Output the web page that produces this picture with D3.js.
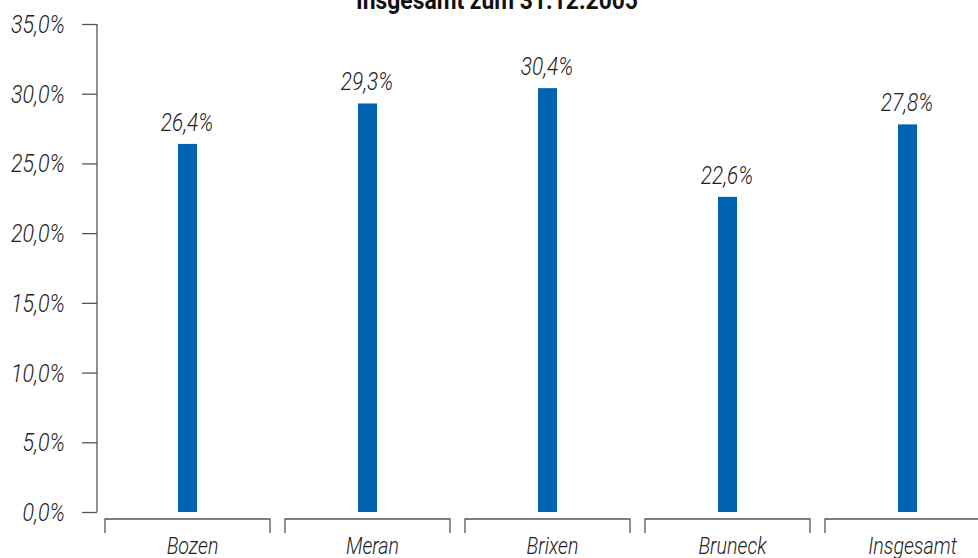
<!DOCTYPE html>
<html><head><meta charset="utf-8">
<script src="https://cdn.jsdelivr.net/npm/d3@7"></script>
<style>
body{margin:0;background:#fff;}
text{font-family:"Roboto",sans-serif;}
</style></head>
<body><svg id="c" width="978" height="558"></svg>
<script>
const title = "Insgesamt zum 31.12.2005";
const categories = ["Bozen","Meran","Brixen","Bruneck","Insgesamt"];
const values = [26.4, 29.3, 30.4, 22.6, 27.8];
const valueLabels = ["26,4%","29,3%","30,4%","22,6%","27,8%"];
const yTicks = [0,5,10,15,20,25,30,35];
const yTickLabels = ["0,0%","5,0%","10,0%","15,0%","20,0%","25,0%","30,0%","35,0%"];

const svg = d3.select("#c");
const y = d3.scaleLinear().domain([0,35]).range([512,24]);
const x = d3.scaleBand().domain(categories).range([97.5,997.5]).padding(0);
const barW = 19;
const dark = "#333";
const tf = (px,py,s)=>`translate(${px},${py}) scale(${s},1)`;

svg.append("text").attr("transform",tf(497,8.5,0.88)).attr("text-anchor","middle")
  .attr("font-size",26).attr("font-weight","bold").attr("fill","#111").text(title);

// y axis
const yAxis = d3.axisLeft(y).tickValues(yTicks).tickSize(15).tickPadding(17)
  .tickFormat((d,i)=>yTickLabels[i]);
const ga = svg.append("g").attr("transform","translate(97,0)").call(yAxis);
ga.select(".domain").attr("stroke","#555").attr("stroke-width",1.3).attr("d","M0,24V512");
ga.selectAll(".tick line").attr("stroke","#555").attr("stroke-width",1.3);
ga.selectAll(".tick text").attr("x",null).attr("dy",null)
  .attr("transform",tf(-32,8.5,0.86))
  .attr("font-size",25).attr("font-style","italic").attr("font-weight",300)
  .attr("fill","#222").attr("font-family","Roboto, sans-serif");

// bars
svg.selectAll("rect.bar").data(values).join("rect").attr("class","bar")
  .attr("x",(d,i)=>x(categories[i])+x.bandwidth()/2-barW/2)
  .attr("width",barW)
  .attr("y",d=>y(d)).attr("height",d=>y(0)-y(d))
  .attr("fill","#0063b1");

svg.selectAll("text.val").data(values).join("text").attr("class","val")
  .attr("transform",(d,i)=>tf(x(categories[i])+x.bandwidth()/2-0.5,y(d)-13,0.8))
  .attr("text-anchor","middle")
  .attr("font-size",26).attr("font-style","italic").attr("font-weight",300).attr("fill","#222")
  .text((d,i)=>valueLabels[i]);

// category brackets
const br = svg.selectAll("g.br").data(categories).join("g").attr("class","br");
br.append("path")
  .attr("d",d=>{const a=x(d)+7.5,b=x(d)+x.bandwidth()-7.5;return `M${a},533V519H${b}V533`;})
  .attr("fill","none").attr("stroke","#555").attr("stroke-width",1.3);
br.append("text").attr("transform",d=>tf(x(d)+x.bandwidth()/2+5,554,0.82))
  .attr("text-anchor","middle").attr("font-size",24).attr("font-style","italic").attr("font-weight",300)
  .attr("fill","#222").text(d=>d);
</script></body></html>
